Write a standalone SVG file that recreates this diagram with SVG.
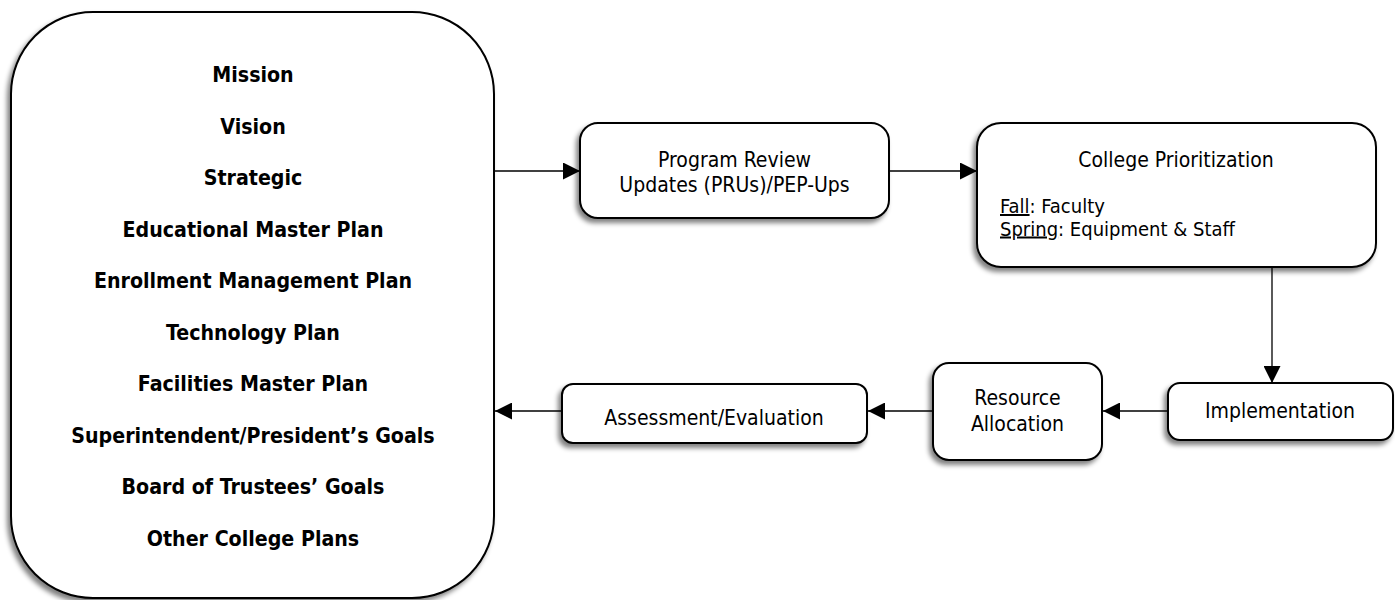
<svg xmlns="http://www.w3.org/2000/svg" width="1395" height="600" viewBox="0 0 1395 600">
<style>
.box{fill:#fff;stroke:#000;stroke-width:2;filter:url(#sh)}
.b{font-family:"DejaVu Sans Condensed","DejaVu Sans",sans-serif;font-stretch:condensed;font-weight:bold;font-size:21.2px;text-anchor:middle;fill:#000}
.t{font-family:"DejaVu Sans Condensed","DejaVu Sans",sans-serif;font-stretch:condensed;font-size:21px;fill:#000}
.s{font-size:20px}
.c{text-anchor:middle}
.conn path{fill:none;stroke:#000;stroke-width:1.3;marker-end:url(#ah)}
</style>
<defs>
<filter id="sh" x="-10%" y="-10%" width="120%" height="130%">
<feGaussianBlur in="SourceAlpha" stdDeviation="2.5"/>
<feOffset dx="-3" dy="4" result="o"/>
<feComponentTransfer><feFuncA type="linear" slope="0.5"/></feComponentTransfer>
<feMerge><feMergeNode/><feMergeNode in="SourceGraphic"/></feMerge>
</filter>
<marker id="ah" markerUnits="userSpaceOnUse" markerWidth="17" markerHeight="17" refX="17" refY="8.5" orient="auto">
<path d="M0,0 L17,8.5 L0,17 z" fill="#000"/>
</marker>
</defs>
<rect width="1395" height="600" fill="#fff"/>
<g id="plans">
<rect class="box" x="11" y="12" width="483" height="586" rx="82"/>
<text class="b" x="253" y="82">Mission</text>
<text class="b" x="253" y="133.5">Vision</text>
<text class="b" x="253" y="185">Strategic</text>
<text class="b" x="253" y="236.5">Educational Master Plan</text>
<text class="b" x="253" y="288">Enrollment Management Plan</text>
<text class="b" x="253" y="339.5">Technology Plan</text>
<text class="b" x="253" y="391">Facilities Master Plan</text>
<text class="b" x="253" y="442.5">Superintendent/President’s Goals</text>
<text class="b" x="253" y="494">Board of Trustees’ Goals</text>
<text class="b" x="253" y="545.5">Other College Plans</text>
</g>
<g id="program-review">
<rect class="box" x="580" y="123" width="309" height="95" rx="18"/>
<text class="t c" x="734.5" y="167">Program Review</text>
<text class="t c" x="734.5" y="192">Updates (PRUs)/PEP-Ups</text>
</g>
<g id="college-prioritization">
<rect class="box" x="977" y="123" width="399" height="144" rx="24"/>
<text class="t c" x="1176" y="167">College Prioritization</text>
<text class="t s" x="1000" y="213"><tspan text-decoration="underline">Fall</tspan>: Faculty</text>
<text class="t s" x="1000" y="235.5"><tspan text-decoration="underline">Spring</tspan>: Equipment &amp; Staff</text>
</g>
<g id="implementation">
<rect class="box" x="1168" y="383" width="225" height="57" rx="12"/>
<text class="t c" x="1280" y="418">Implementation</text>
</g>
<g id="resource-allocation">
<rect class="box" x="933" y="363" width="169" height="97" rx="16"/>
<text class="t c" x="1017.5" y="405">Resource</text>
<text class="t c" x="1017.5" y="431">Allocation</text>
</g>
<g id="assessment">
<rect class="box" x="562" y="384" width="305" height="59" rx="11"/>
<text class="t c" x="714" y="425">Assessment/Evaluation</text>
</g>
<g class="conn" id="connectors">
<path d="M495,171 H580"/>
<path d="M890,171 H977"/>
<path d="M1272,268 V383"/>
<path d="M1167,411 H1103"/>
<path d="M932,411 H868"/>
<path d="M561,411 H495"/>
</g>
</svg>
